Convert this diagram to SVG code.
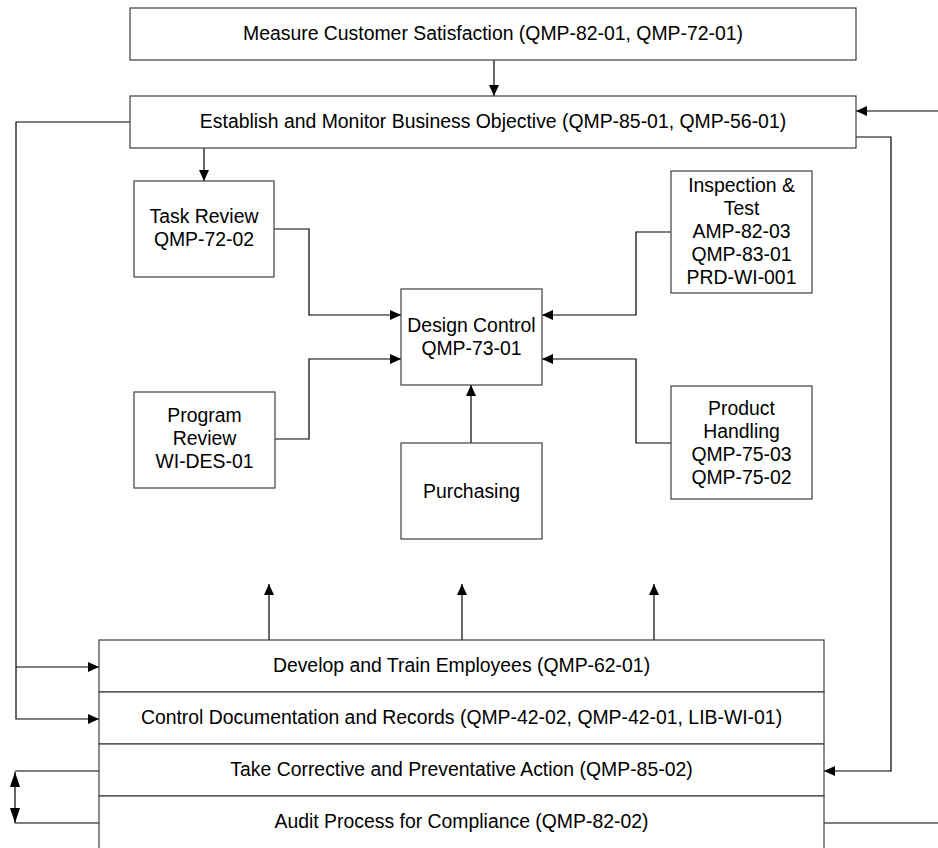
<svg xmlns="http://www.w3.org/2000/svg" width="938" height="848" viewBox="0 0 938 848">
<style>
.box{fill:#fff;stroke:#404040;stroke-width:1.2}
.t{font-family:"Liberation Sans",Arial,sans-serif;font-size:19.4px;fill:#000;text-anchor:middle}
.c{fill:none;stroke:#000;stroke-width:1.2}
.ca{fill:none;stroke:#000;stroke-width:1.2;marker-end:url(#ah)}
</style>
<defs>
<marker id="ah" markerUnits="userSpaceOnUse" markerWidth="12" markerHeight="11" refX="11" refY="5" orient="auto-start-reverse">
<path d="M0,0 L11,5 L0,10 z" fill="#000"/>
</marker>
<marker id="ah2" markerUnits="userSpaceOnUse" markerWidth="16" markerHeight="11" refX="15" refY="5" orient="auto-start-reverse">
<path d="M0,0 L15,5 L0,10 z" fill="#000"/>
</marker>
</defs>
<rect x="0" y="0" width="938" height="848" fill="#fff"/>
<g id="connectors">
<path class="ca" d="M494,60 V96"/>
<path class="ca" d="M130,122 H16 V719 H99"/>
<path class="ca" d="M16,667 H99"/>
<path class="ca" d="M938,111 H856"/>
<path class="ca" d="M856,137 H891 V771 H824"/>
<path class="c" d="M824,823 H938"/>
<path class="ca" d="M204,148 V181"/>
<path class="ca" d="M274,229 H309 V315 H401"/>
<path class="ca" d="M275,439 H309 V359 H401"/>
<path class="ca" d="M671,232 H636 V315 H542"/>
<path class="ca" d="M671,443 H636 V359 H542"/>
<path class="ca" d="M471,443 V385"/>
<path class="ca" d="M269,640 V584"/>
<path class="ca" d="M462,640 V584"/>
<path class="ca" d="M654,640 V584"/>
<path class="c" d="M99,771 H15 M15,823 H99"/>
<path class="c" d="M15,772 V823" marker-start="url(#ah2)" marker-end="url(#ah2)"/>
</g>
<g id="measure">
<rect class="box" x="130" y="8" width="726" height="52"/>
<text class="t" x="493" y="40">Measure Customer Satisfaction (QMP-82-01, QMP-72-01)</text>
</g>
<g id="establish">
<rect class="box" x="130" y="96" width="726" height="52"/>
<text class="t" x="493" y="128">Establish and Monitor Business Objective (QMP-85-01, QMP-56-01)</text>
</g>
<g id="task-review">
<rect class="box" x="134" y="181" width="140" height="96"/>
<text class="t" x="204" y="223">Task Review</text>
<text class="t" x="204" y="246">QMP-72-02</text>
</g>
<g id="design-control">
<rect class="box" x="401" y="289" width="141" height="96"/>
<text class="t" x="471.5" y="332">Design Control</text>
<text class="t" x="471.5" y="355">QMP-73-01</text>
</g>
<g id="inspection">
<rect class="box" x="671" y="171" width="141" height="122"/>
<text class="t" x="741.5" y="192">Inspection &amp;</text>
<text class="t" x="741.5" y="215">Test</text>
<text class="t" x="741.5" y="238">AMP-82-03</text>
<text class="t" x="741.5" y="261">QMP-83-01</text>
<text class="t" x="741.5" y="284">PRD-WI-001</text>
</g>
<g id="program-review">
<rect class="box" x="134" y="392" width="141" height="96"/>
<text class="t" x="204.5" y="422">Program</text>
<text class="t" x="204.5" y="445">Review</text>
<text class="t" x="204.5" y="468">WI-DES-01</text>
</g>
<g id="purchasing">
<rect class="box" x="401" y="443" width="141" height="96"/>
<text class="t" x="471.5" y="498">Purchasing</text>
</g>
<g id="product-handling">
<rect class="box" x="671" y="386" width="141" height="113"/>
<text class="t" x="741.5" y="415">Product</text>
<text class="t" x="741.5" y="438">Handling</text>
<text class="t" x="741.5" y="461">QMP-75-03</text>
<text class="t" x="741.5" y="484">QMP-75-02</text>
</g>
<g id="develop-train">
<rect class="box" x="99" y="640" width="725" height="52"/>
<text class="t" x="461.5" y="672">Develop and Train Employees (QMP-62-01)</text>
</g>
<g id="control-docs">
<rect class="box" x="99" y="692" width="725" height="52"/>
<text class="t" x="461.5" y="724">Control Documentation and Records (QMP-42-02, QMP-42-01, LIB-WI-01)</text>
</g>
<g id="corrective">
<rect class="box" x="99" y="744" width="725" height="52"/>
<text class="t" x="461.5" y="776">Take Corrective and Preventative Action (QMP-85-02)</text>
</g>
<g id="audit">
<rect class="box" x="99" y="796" width="725" height="60"/>
<text class="t" x="461.5" y="828">Audit Process for Compliance (QMP-82-02)</text>
</g>
</svg>
